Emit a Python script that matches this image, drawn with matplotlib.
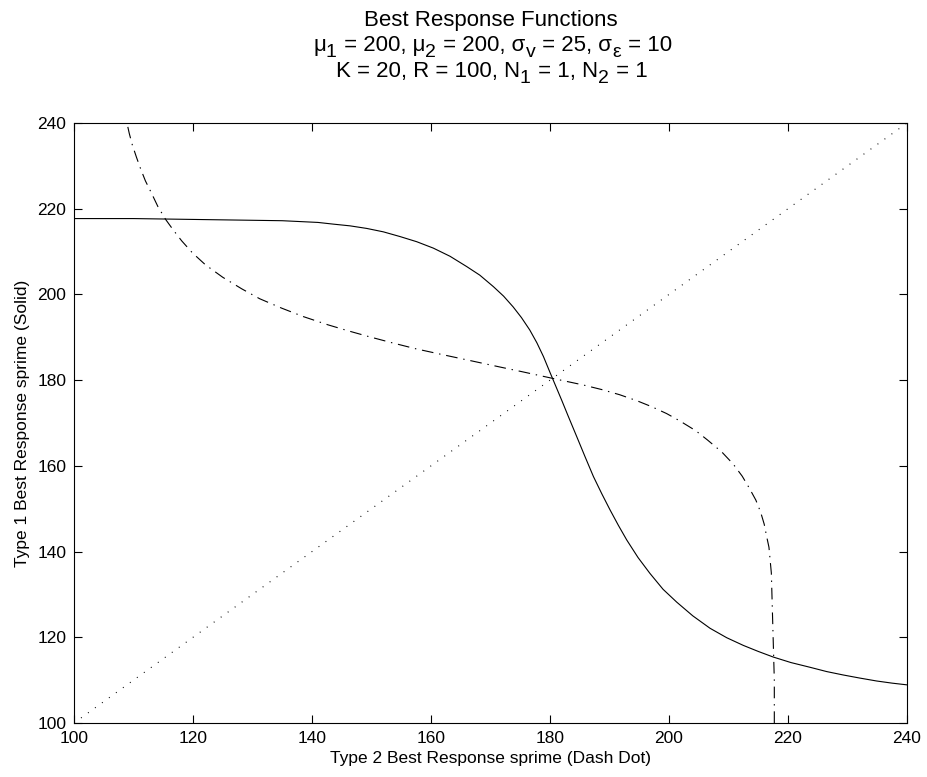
import numpy as np
import matplotlib
matplotlib.use("Agg")
import matplotlib.pyplot as plt

# Type 1 best response (solid)
sprime2 = [100, 105, 110, 115, 120, 125, 130, 135, 138, 141, 143.6, 146.4,
           149.2, 152, 154.8, 157.6, 160.4, 163.2, 166.0, 168.2, 170.5, 172.2,
           173.8, 175.2, 176.6, 177.8, 178.9, 180.0, 181.0, 182.0, 183.0,
           184.5, 185.9, 187.3, 188.7, 190.1, 191.5, 192.9, 194.8, 196.8,
           199.0, 201.3, 204.0, 206.9, 209.7, 212.5, 215.0, 217.5, 220.5,
           223.7, 226.5, 229.3, 232.0, 234.9, 237.5, 240]
br1 = [217.7, 217.7, 217.7, 217.6, 217.5, 217.4, 217.3, 217.2, 217.0, 216.8,
       216.4, 216.0, 215.4, 214.6, 213.5, 212.3, 210.8, 208.9, 206.5, 204.5,
       201.8, 199.6, 197.1, 194.6, 191.7, 188.7, 185.5, 181.8, 178.5, 175.2,
       171.8, 166.8, 162.1, 157.5, 153.5, 149.7, 146.1, 142.7, 138.6, 134.9,
       131.2, 128.2, 125.0, 122.1, 119.9, 118.1, 116.7, 115.4, 114.1, 113.0,
       112.0, 111.2, 110.5, 109.8, 109.3, 108.9]
# symmetric game: type 2 best response is the mirror image
br2_x = br1
br2_y = sprime2
diag = [100, 240]

xticks = [100, 120, 140, 160, 180, 200, 220, 240]
yticks = [100, 120, 140, 160, 180, 200, 220, 240]

# title lines as (text, is_subscript) pieces, MATLAB style big subscripts
title_lines = [
    [("Best Response Functions", False)],
    [("\u03bc", False), ("1", True), (" = 200, \u03bc", False), ("2", True),
     (" = 200, \u03c3", False), ("v", True), (" = 25, \u03c3", False),
     ("\u03b5", True), (" = 10", False)],
    [("K = 20, R = 100, N", False), ("1", True), (" = 1, N", False),
     ("2", True), (" = 1", False)],
]

W, H = 928, 777
AX_L, AX_R, AX_B, AX_T = 74, 907, 723, 123  # axes box in pixels

plt.rcParams["font.family"] = ["Liberation Sans", "DejaVu Sans"]
plt.rcParams["lines.scale_dashes"] = False

fig = plt.figure(figsize=(W / 100, H / 100), dpi=100)
ax = fig.add_axes([AX_L / W, 1 - AX_B / H, (AX_R - AX_L) / W, (AX_B - AX_T) / H])

ax.plot(sprime2, br1, color="black", lw=0.8, ls="-")
ax.plot(br2_x, br2_y, color="black", lw=0.8, ls=(0, (8.4, 4.2, 1.0, 4.2)))
ax.plot(diag, diag, color="black", lw=0.8, ls=(0, (0.7, 5.5)))

ax.set_xlim(100, 240)
ax.set_ylim(100, 240)
ax.set_xticks(xticks)
ax.set_yticks(yticks)
ax.tick_params(direction="in", length=6, width=0.8, top=True, right=True,
               labelsize=12.5, pad=5.5)
for s in ax.spines.values():
    s.set_linewidth(0.8)

ax.set_xlabel("Type 2 Best Response sprime (Dash Dot)", fontsize=12.5, labelpad=4)
ax.set_ylabel("Type 1 Best Response sprime (Solid)", fontsize=12.5, labelpad=5)

# title: lay pieces out by hand so the subscripts can be big and low
renderer = fig.canvas.get_renderer()
centre = (AX_L + AX_R) / 2
baselines = [26, 51, 77]
for pieces, base in zip(title_lines, baselines):
    placed = []
    for txt, sub in pieces:
        t = fig.text(0, 0, txt, fontsize=14 if sub else 16, va="baseline",
                     ha="left")
        placed.append((t, sub, t.get_window_extent(renderer=renderer).width))
    x = centre - sum(p[2] for p in placed) / 2
    for t, sub, w in placed:
        y = base + (6 if sub else 0)
        t.set_position((x / W, 1 - y / H))
        x += w + (1 if sub else 0)

fig.savefig("out.png", dpi=100)
